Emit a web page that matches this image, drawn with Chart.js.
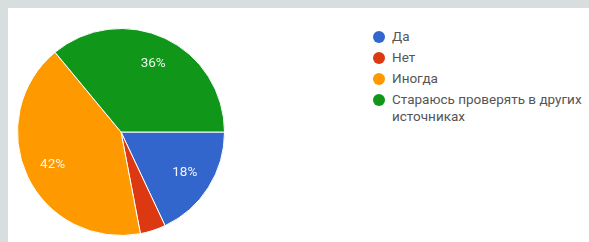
<!DOCTYPE html>
<html>
<head>
<meta charset="utf-8">
<script src="https://cdn.jsdelivr.net/npm/chart.js@4"></script>
<style>
  html, body { margin: 0; padding: 0; }
  body { width: 589px; height: 242px; background: #d7dedd; overflow: hidden; position: relative; }
  .panel { position: absolute; left: 8px; top: 8px; right: 0; bottom: 0; background: #fff; }
  .pie { position: absolute; left: 17px; top: 28px; width: 208px; height: 208px; }
  #legend { position: absolute; left: 373px; top: 28px; margin: 0; padding: 0; list-style: none;
    font-family: Roboto, "Liberation Sans", Arial, sans-serif; font-size: 13.5px; color: #555; }
  #legend li { position: relative; padding-left: 19px; line-height: 17px; margin-bottom: 4px; width: 200px; }
  #legend span.dot { position: absolute; left: 0; top: 2.5px; width: 12px; height: 12px; border-radius: 50%; }
</style>
</head>
<body>
<div class="panel"></div>
<div class="pie"><canvas id="PieChart"></canvas></div>
<ul id="legend"></ul>
<script>
const answers = ['Да', 'Нет', 'Иногда', 'Стараюсь проверять в других источниках'];
const shares = [18, 4, 42, 36];
const sliceColors = ['#3366cc', '#dc3912', '#ff9900', '#109618'];

// labels inside slices, like google forms (small slices get none)
const sliceLabels = {
  id: 'sliceLabels',
  afterDatasetsDraw(chart) {
    const ctx = chart.ctx;
    const meta = chart.getDatasetMeta(0);
    ctx.save();
    ctx.fillStyle = 'rgba(255,255,255,0.92)';
    ctx.font = '13.5px Roboto, "Liberation Sans", Arial, sans-serif';
    ctx.textAlign = 'center';
    ctx.textBaseline = 'middle';
    meta.data.forEach((arc, i) => {
      if (shares[i] < 5) return;
      const mid = (arc.startAngle + arc.endAngle) / 2;
      const r = arc.outerRadius * 0.73;
      ctx.fillText(shares[i] + '%', arc.x + Math.cos(mid) * r, arc.y + Math.sin(mid) * r);
    });
    ctx.restore();
  }
};

new Chart(document.getElementById('PieChart'), {
  type: 'pie',
  data: {
    labels: answers,
    datasets: [{
      data: shares,
      backgroundColor: sliceColors,
      borderColor: '#fff',
      borderWidth: 1
    }]
  },
  options: {
    responsive: true,
    maintainAspectRatio: false,
    animation: false,
    rotation: 90,
    layout: { padding: 0 },
    plugins: { legend: { display: false }, tooltip: { enabled: false } }
  },
  plugins: [sliceLabels]
});

const legend = document.getElementById('legend');
answers.forEach((a, i) => {
  const li = document.createElement('li');
  const dot = document.createElement('span');
  dot.className = 'dot';
  dot.style.background = sliceColors[i];
  li.appendChild(dot);
  li.appendChild(document.createTextNode(a));
  legend.appendChild(li);
});
</script>
</body>
</html>
